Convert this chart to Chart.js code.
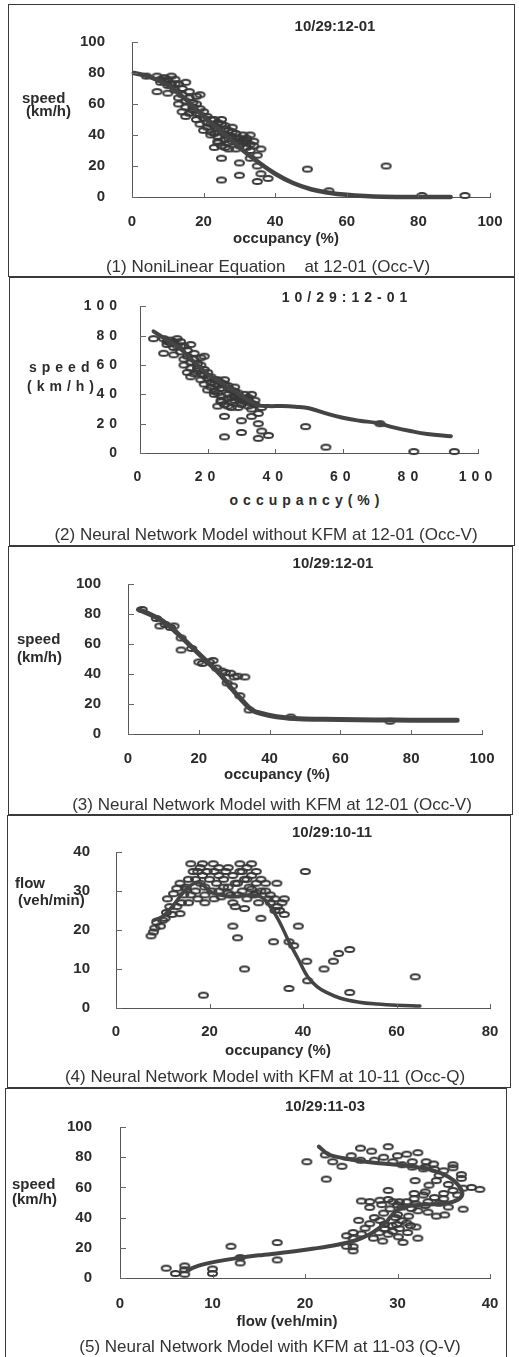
<!DOCTYPE html>
<html>
<head>
<meta charset="utf-8">
<script src="https://cdn.jsdelivr.net/npm/chart.js@4.4.0/dist/chart.umd.min.js"></script>
<style>
body { margin:0; background:#fff; width:519px; height:1357px; position:relative; overflow:hidden;
       font-family: Arial, "Liberation Sans", sans-serif; color:#2b2b2b; }
.box { position:absolute; border:1.5px solid #3a3a3a; box-sizing:border-box; }
canvas { position:absolute; left:0; }
.c { position:absolute; white-space:pre; font-weight:bold; font-size:15px; line-height:15px; transform:translate(-50%,-50%); }
.l { position:absolute; white-space:pre; font-weight:bold; font-size:15px; line-height:15px; transform:translateY(-50%); }
.sp { letter-spacing:5px; font-size:14px; }
.cap { position:absolute; white-space:pre; font-size:17px; transform:translate(-50%,-50%); color:#333; }
</style>
</head>
<body>
<script>
// occupancy / speed observations 10/29 12-01 (used in panels 1 and 2)
var occVPoints = [[4,78],[7,78],[9,77],[11,78],[12,76],[9,75],[11,73],[8,74],[10,72],[13,73],[15,74],
  [7,68],[10,67],[12,69],[14,66],[16,64],[18,65],[19,66],[13,60],[15,58],[17,61],[18,60],[14,55],[16,54],
  [17,56],[19,53],[15,52],[18,50],[20,51],[21,48],[22,50],[19,47],[21,45],[23,46],[24,48],[25,50],[20,43],
  [22,42],[24,44],[26,46],[27,43],[28,45],[22,40],[24,39],[26,40],[27,38],[29,41],[30,38],[31,40],[33,40],
  [24,35],[25,33],[27,35],[28,36],[30,33],[31,35],[32,36],[34,36],[23,32],[26,32],[29,31],[32,32],[33,34],
  [36,31],[35,27],[33,25],[25,25],[30,22],[35,20],[30,14],[36,15],[38,12],[25,11],[35,10],[49,18],[55,4],
  [71,20],[81,1],[93,1],
  [8,76],[10,76],[12,73],[14,70],[16,68],[13,64],[15,62],[17,58],[19,57],[20,55],[18,54],[21,52],[23,50],
  [22,47],[25,47],[26,44],[28,42],[29,38],[31,37],[32,38],[28,39],[30,36],[33,30],[34,33],[27,31],[24,36],
  [26,37],[23,41]];
var p1Curve = [[0.5,80],[5,77.5],[10,72],[15,63],[20,52],[25,42],[30,32],[35,23],[40,15],[45,9],[50,5],
  [55,2.8],[60,1.4],[65,0.6],[70,0.2],[80,0],[89,0]];
var p2Curve = [[4,83],[8,77],[12,71],[16,62],[20,54],[24,48],[28,42],[32,36],[35,32.5],[38,32],[42,32],
  [46,31.5],[50,30.5],[55,27],[60,24],[65,22],[70,20.5],[75,17.5],[80,15],[85,13],[92,11.5]];

var p3Points = [[4,83],[8,77],[9,72],[10.5,73],[12,71],[13,72],[15,64],[15,56],[18,57],[20,48],[21,47],
  [23,48],[24,49],[25,44],[26.5,42],[27.5,41],[29,40.5],[30,38],[31,38.5],[33,38],[28,34],[29.5,32],
  [31.6,25.5],[34.2,16],[46,11.3],[74,8.5]];
var p3Curve = [[3,83],[6,80],[10,75],[14,67],[18,58],[22,49],[26,40],[29,31],[32,23],[35,16],[38,13.5],
  [42,11.5],[47,10.3],[55,9.8],[65,9.5],[75,9.3],[85,9.2],[93,9.2]];

var p4Points = [[7.5,18.5],[8,19.5],[8.3,20.5],[8.7,22],[9.5,21],[10,22.5],[10.5,23],[10.8,24.5],[11.5,26],
  [11,28],[12.3,29.3],[13,30.7],[13.7,32],[13.7,24.2],[14,27],[14.5,29],[15,30.5],[15.5,33],[16,37],
  [16.5,35],[17,33],[17,30],[17.5,28],[18,36],[18.5,37],[18.5,34],[19,31],[19,27],[20,33],[20.8,37],
  [21,35],[21.5,32],[22,30],[22.5,28.5],[23,33],[23.5,35],[24,31],[24.5,29],[25,34],[25,27],[25.5,26],
  [26,32],[26.5,37],[26.5,35],[27,30],[27.5,33],[27.5,25.5],[28,28],[28.5,31],[29,37],[29,34],[29.5,29],
  [30,32],[30.5,27],[31,33],[31,23],[32,30],[32.5,28],[33,29],[34,28],[34.4,32],[34.5,26],[35,25],
  [35.5,27],[33.7,17],[25,21],[26,18],[27.5,10],[18.7,3.3],[37,5],[37,17],[38,16],[39,21],[40.5,35],
  [40.8,12],[41,7],[44.5,10],[46.5,12],[47.6,14],[50,15],[50,4],[64,8],
  [15,31],[16,29],[17.5,35],[19.5,35],[20.5,30],[21,28],[22,34],[23,31],[24,29.5],[24,36],[25.5,32],
  [26,29],[27,35],[28,33],[28,36],[29,30.5],[30,35],[31,30],[32,32],[33,27],[34,25],[19,29],[18,32],
  [15.5,27],[13,26],[12,24],[36,24],[36,28],[22,36],[30,29.5]];
var p4Curve = [[8,22.5],[10,23.5],[12,26],[14,29],[16,31.5],[18,32],[20,30],[22,29],[25,28.5],[28,29],
  [31,28.5],[33,26],[35,22],[37,17],[39,12.5],[41,8],[43,5.5],[45,4],[48,2.5],[52,1.5],[56,1],[60,0.7],[65,0.5]];

var p5Points = [[5,6.5],[6,3],[7,5.5],[7,8],[7,2.5],[10,6],[10,3],[12,21],[13,10],[13,13.5],[17,23.5],
  [17,12],[20.2,77],[22.3,65.5],[22.2,81.5],[24,74],[26,86],[27.2,84],[29,87],[28.5,80],[26,78],[30,81],
  [31,82],[32.2,83],[31.6,77],[31.6,73.5],[33.1,77],[33.9,75.5],[32.8,72.3],[34,72],[35,71],[36,75],
  [36,73],[36.9,68.5],[36.9,66],[34.2,64.5],[33.4,61.5],[31.9,64.5],[37.1,59.5],[38,60],[38.9,58.7],
  [37.1,45.6],[35,56],[35,52.5],[34,53.3],[33.3,50.5],[32.8,55],[31.8,56],[31.8,52.5],[31,50.5],
  [30.2,50.5],[29.5,50.5],[29,58],[29,52],[28.1,51.5],[27,50.6],[26.1,51],[27,46.8],[28.3,48.6],
  [29.2,45.8],[31.2,41],[32.2,44.5],[33.3,43.6],[35.1,41.8],[34.2,41],[25.8,38.2],[27,36],[28.1,38.2],
  [28.6,35.5],[29.4,34.7],[29.9,35.5],[30.2,32.7],[28.6,32.7],[29.5,30.9],[31.4,34.7],[32,33.8],
  [31.1,30.1],[32.2,26.4],[27.4,26.4],[28.4,24.5],[25.2,30.1],[25.2,26.4],[26.1,29.2],[25.2,20.8],
  [25.2,18],[30.1,27.3],[30.6,23.6],[24.5,28],[29.8,40],[30.5,47],[33,48],[35.5,47],[36.5,55],[24.5,21],
  [27.5,78],[29.5,77],[30.5,75],[33,73.5],[34.5,68],[35.5,62],[36,58],[33,57],[34.5,49.5],[32,49],
  [30,48.5],[31.5,46],[28.5,43],[30.5,38],[27.5,40],[29,29],[26.5,33],[31,36.5],[30,42],[28,30],[23,77],[25,81]];
var p5Curve = [[21.5,87],[22.5,82],[24,79.5],[26,77.5],[28,76],[30,75],[32,73.5],[34,71],[35.5,67],
  [36.5,62],[37,57],[36.8,53],[36,50.5],[34.5,49],[32.5,48.5],[31,47.5],[30,45],[29.3,41],[28.8,37],
  [28,33],[27,29],[25.5,25],[23.5,22],[21,19.5],[18,17],[15,15],[12.5,13],[10.5,11],[9,9],[8,7],[7.3,5]];

var titles = ['10/29:12-01', '10/29:12-01', '10/29:12-01', '10/29:10-11', '10/29:11-03'];
var captions = ['(1) NoniLinear Equation    at 12-01 (Occ-V)',
  '(2) Neural Network Model without KFM at 12-01 (Occ-V)',
  '(3) Neural Network Model with KFM at 12-01 (Occ-V)',
  '(4) Neural Network Model with KFM at 10-11 (Occ-Q)',
  '(5) Neural Network Model with KFM at 11-03 (Q-V)'];

var FONT = 'Arial, "Liberation Sans", sans-serif';
var INK = '#2b2b2b';

// panel layout: canvas top/height, plot area (left,right,top,bottom), tick label gaps
var panels = [
  {top:6, h:232, L:132, R:490, T:18, B:197, yPad:27, xPad:16, xMax:100, xStep:20, yMax:100, yStep:20,
   pts:occVPoints, curve:p1Curve, lw:4.5, tension:0.4, spaced:false},
  {top:280, h:210, L:140, R:478, T:297, B:453, yPad:18, xPad:16, xMax:100, xStep:20, yMax:100, yStep:20,
   pts:occVPoints, curve:p2Curve, lw:4, tension:0.4, spaced:true},
  {top:548, h:222, L:128, R:482, T:558, B:735, yPad:27, xPad:16, xMax:100, xStep:20, yMax:100, yStep:20,
   pts:p3Points, curve:p3Curve, lw:5, tension:0.4, spaced:false},
  {top:817, h:226, L:116, R:490, T:827, B:1009, yPad:26, xPad:15, xMax:80, xStep:20, yMax:40, yStep:10,
   pts:p4Points, curve:p4Curve, lw:3.5, tension:0.4, spaced:false},
  {top:1090, h:225, L:120, R:490, T:1102, B:1279, yPad:28, xPad:17, xMax:40, xStep:10, yMax:100, yStep:20,
   pts:p5Points, curve:p5Curve, lw:4, tension:0.35, spaced:false}
];

// boxes round each panel
var boxes = [[8,4,515,277],[9,277,515,546],[8,546,513,815],[7,815,511,1088],[5,1088,507,1360]];
boxes.forEach(function (b) {
  var d = document.createElement('div');
  d.className = 'box';
  d.style.left = b[0] + 'px'; d.style.top = b[1] + 'px';
  d.style.width = (b[2] - b[0]) + 'px'; d.style.height = (b[3] - b[1]) + 'px';
  document.body.appendChild(d);
});

function ring(w, h, lw, col) {
  var c = document.createElement('canvas');
  c.width = w + 4; c.height = h + 4;
  var g = c.getContext('2d');
  g.strokeStyle = col; g.lineWidth = lw;
  g.beginPath(); g.ellipse(c.width / 2, c.height / 2, w / 2, h / 2, 0, 0, Math.PI * 2); g.stroke();
  return c;
}
var oval = ring(9, 5.2, 2, '#383838');

var innerTicks = {
  id: 'innerTicks',
  afterDraw: function (chart) {
    var ctx = chart.ctx, a = chart.chartArea, sx = chart.scales.x, sy = chart.scales.y;
    ctx.save();
    ctx.strokeStyle = '#666'; ctx.lineWidth = 1;
    ctx.beginPath();
    sx.ticks.forEach(function (t) {
      var px = Math.round(sx.getPixelForValue(t.value)) + 0.5;
      ctx.moveTo(px, a.bottom); ctx.lineTo(px, a.bottom - 4);
    });
    sy.ticks.forEach(function (t) {
      var py = Math.round(sy.getPixelForValue(t.value)) + 0.5;
      ctx.moveTo(a.left, py); ctx.lineTo(a.left + 6, py);
    });
    ctx.stroke();
    ctx.restore();
  }
};
var spacedText = {
  id: 'spacedText',
  beforeDraw: function (chart) {
    if (chart.options.plugins.spacedText.on) chart.ctx.letterSpacing = '5px';
  }
};

panels.forEach(function (p, i) {
  var cv = document.createElement('canvas');
  cv.width = 519; cv.height = p.h;
  cv.style.top = p.top + 'px';
  cv.style.width = '519px'; cv.style.height = p.h + 'px';
  document.body.appendChild(cv);
  var tickFont = {family: FONT, size: p.spaced ? 14 : 15, weight: 'bold'};
  new Chart(cv.getContext('2d'), {
    type: 'scatter',
    data: {
      datasets: [{
        data: p.curve,
        showLine: true,
        borderColor: '#444',
        borderWidth: p.lw,
        tension: p.tension,
        pointRadius: 0,
        borderCapStyle: 'round',
        clip: false
      }, {
        data: p.pts,
        pointStyle: oval,
        pointRadius: 4,
        showLine: false,
        clip: false
      }]
    },
    options: {
      responsive: false,
      animation: false,
      events: [],
      layout: {padding: {left: 0, right: 519 - p.R, top: p.T - p.top, bottom: 0}},
      plugins: {legend: {display: false}, tooltip: {enabled: false}, spacedText: {on: p.spaced}},
      scales: {
        x: {
          type: 'linear', min: 0, max: p.xMax,
          afterFit: function (s) { s.height = p.top + p.h - p.B; },
          grid: {drawOnChartArea: false, drawTicks: false},
          border: {display: true, color: '#555', width: 1},
          ticks: {stepSize: p.xStep, color: INK, font: tickFont, padding: p.xPad, maxRotation: 0}
        },
        y: {
          type: 'linear', min: 0, max: p.yMax,
          afterFit: function (s) { s.width = p.L; },
          grid: {drawOnChartArea: false, drawTicks: false},
          border: {display: true, color: '#555', width: 1},
          ticks: {stepSize: p.yStep, color: INK, font: tickFont, padding: p.yPad}
        }
      }
    },
    plugins: [innerTicks, spacedText]
  });
});

// texts: [text, x, y, class]
var texts = [
  [titles[0], 335, 25, 'c'], ['occupancy (%)', 286, 237, 'c'], ['speed', 22, 97, 'l'], ['(km/h)', 26, 110, 'l'],
  [titles[1], 347, 297, 'c sp'], ['occupancy(%)', 307, 500, 'c sp'], ['speed', 29, 367, 'l sp'], ['(km/h)', 27, 386, 'l sp'],
  [titles[2], 333, 562, 'c'], ['occupancy (%)', 277, 773, 'c'], ['speed', 17, 638, 'l'], ['(km/h)', 17, 656, 'l'],
  [titles[3], 332, 831, 'c'], ['occupancy (%)', 278, 1049, 'c'], ['flow', 15, 882, 'l'], ['(veh/min)', 18, 899, 'l'],
  [titles[4], 325, 1105, 'c'], ['flow (veh/min)', 287, 1320, 'c'], ['speed', 12, 1183, 'l'], ['(km/h)', 12, 1198, 'l'],
  [captions[0], 268, 267, 'cap'], [captions[1], 266, 535, 'cap'], [captions[2], 272, 805, 'cap'],
  [captions[3], 265, 1077, 'cap'], [captions[4], 270, 1347, 'cap']
];
texts.forEach(function (t) {
  var d = document.createElement('div');
  d.className = t[3];
  d.textContent = t[0];
  d.style.left = t[1] + 'px'; d.style.top = t[2] + 'px';
  document.body.appendChild(d);
});
</script>
</body>
</html>
